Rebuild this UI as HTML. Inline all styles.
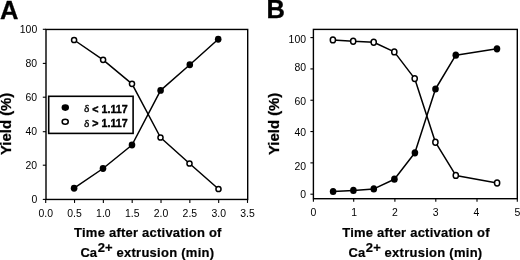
<!DOCTYPE html>
<html><head><meta charset="utf-8"><title>Figure</title>
<style>
html,body{margin:0;padding:0;background:#fff;}
svg{display:block;}
text{font-family:"Liberation Sans",Arial,Helvetica,sans-serif;fill:#000;}
.b{font-weight:bold;}
.t{font-size:10.45px;}
.sym{font-family:"Liberation Serif","DejaVu Serif",serif;font-weight:normal;}
</style></head><body>
<svg width="520" height="260" viewBox="0 0 520 260">
<rect width="520" height="260" fill="#fff"/>

<rect x="46.0" y="29.45" width="201.7" height="170.0" fill="none" stroke="#000" stroke-width="1.4"/>
<line x1="42.8" y1="199.4" x2="46.0" y2="199.4" stroke="#000" stroke-width="1.1"/>
<text class="t" x="37.2" y="203.1" text-anchor="end">0</text>
<line x1="42.8" y1="165.2" x2="46.0" y2="165.2" stroke="#000" stroke-width="1.1"/>
<text class="t" x="37.2" y="168.89999999999998" text-anchor="end">20</text>
<line x1="42.8" y1="131.7" x2="46.0" y2="131.7" stroke="#000" stroke-width="1.1"/>
<text class="t" x="37.2" y="135.39999999999998" text-anchor="end">40</text>
<line x1="42.8" y1="97.2" x2="46.0" y2="97.2" stroke="#000" stroke-width="1.1"/>
<text class="t" x="37.2" y="100.9" text-anchor="end">60</text>
<line x1="42.8" y1="63.4" x2="46.0" y2="63.4" stroke="#000" stroke-width="1.1"/>
<text class="t" x="37.2" y="67.1" text-anchor="end">80</text>
<line x1="42.8" y1="29.3" x2="46.0" y2="29.3" stroke="#000" stroke-width="1.1"/>
<text class="t" x="37.2" y="33.0" text-anchor="end">100</text>
<line x1="45.7" y1="199.45" x2="45.7" y2="202.95" stroke="#000" stroke-width="1.1"/>
<text class="t" x="45.7" y="216.9" text-anchor="middle">0.0</text>
<line x1="74.53" y1="199.45" x2="74.53" y2="202.95" stroke="#000" stroke-width="1.1"/>
<text class="t" x="74.53" y="216.9" text-anchor="middle">0.5</text>
<line x1="103.36" y1="199.45" x2="103.36" y2="202.95" stroke="#000" stroke-width="1.1"/>
<text class="t" x="103.36" y="216.9" text-anchor="middle">1.0</text>
<line x1="132.19" y1="199.45" x2="132.19" y2="202.95" stroke="#000" stroke-width="1.1"/>
<text class="t" x="132.19" y="216.9" text-anchor="middle">1.5</text>
<line x1="161.01999999999998" y1="199.45" x2="161.01999999999998" y2="202.95" stroke="#000" stroke-width="1.1"/>
<text class="t" x="161.01999999999998" y="216.9" text-anchor="middle">2.0</text>
<line x1="189.84999999999997" y1="199.45" x2="189.84999999999997" y2="202.95" stroke="#000" stroke-width="1.1"/>
<text class="t" x="189.84999999999997" y="216.9" text-anchor="middle">2.5</text>
<line x1="218.68" y1="199.45" x2="218.68" y2="202.95" stroke="#000" stroke-width="1.1"/>
<text class="t" x="218.68" y="216.9" text-anchor="middle">3.0</text>
<line x1="247.51" y1="199.45" x2="247.51" y2="202.95" stroke="#000" stroke-width="1.1"/>
<text class="t" x="247.51" y="216.9" text-anchor="middle">3.5</text>
<polyline points="74.1,40.0 103.1,59.8 132,83.8 160.5,137.5 189.5,163.5 218.5,189" fill="none" stroke="#000" stroke-width="1.5" stroke-linejoin="round"/>
<polyline points="74.1,188.2 103,168.5 132,145 160.6,90.4 189.8,64.8 218.2,39.3" fill="none" stroke="#000" stroke-width="1.5" stroke-linejoin="round"/>
<rect x="48.7" y="96.3" width="84.4" height="37.1" fill="#fff" stroke="#000" stroke-width="1.6"/>
<ellipse cx="74.1" cy="40.0" rx="2.55" ry="2.6" fill="#fff" stroke="#000" stroke-width="1.5"/>
<ellipse cx="103.1" cy="59.8" rx="2.55" ry="2.6" fill="#fff" stroke="#000" stroke-width="1.5"/>
<ellipse cx="132" cy="83.8" rx="2.55" ry="2.6" fill="#fff" stroke="#000" stroke-width="1.5"/>
<ellipse cx="160.5" cy="137.5" rx="2.55" ry="2.6" fill="#fff" stroke="#000" stroke-width="1.5"/>
<ellipse cx="189.5" cy="163.5" rx="2.55" ry="2.6" fill="#fff" stroke="#000" stroke-width="1.5"/>
<ellipse cx="218.5" cy="189" rx="2.55" ry="2.6" fill="#fff" stroke="#000" stroke-width="1.5"/>
<ellipse cx="74.1" cy="188.2" rx="3.3" ry="3.45" fill="#000"/>
<ellipse cx="103" cy="168.5" rx="3.3" ry="3.45" fill="#000"/>
<ellipse cx="132" cy="145" rx="3.3" ry="3.45" fill="#000"/>
<ellipse cx="160.6" cy="90.4" rx="3.3" ry="3.45" fill="#000"/>
<ellipse cx="189.8" cy="64.8" rx="3.3" ry="3.45" fill="#000"/>
<ellipse cx="218.2" cy="39.3" rx="3.3" ry="3.45" fill="#000"/>
<ellipse cx="65.3" cy="107.6" rx="3.7" ry="3.3" fill="#000"/>
<ellipse cx="65.2" cy="121.7" rx="3.05" ry="2.5" fill="#fff" stroke="#000" stroke-width="1.5"/>
<text class="sym" font-size="11.3" x="84.0" y="112.3" stroke="#000" stroke-width="0.35">δ</text>
<text class="b" font-size="11.4" x="92.3" y="112.5" textLength="35.3" lengthAdjust="spacingAndGlyphs" stroke="#000" stroke-width="0.45">&lt; 1.117</text>
<text class="sym" font-size="11.3" x="84.0" y="126.8" stroke="#000" stroke-width="0.35">δ</text>
<text class="b" font-size="11.4" x="92.3" y="127.0" textLength="35.3" lengthAdjust="spacingAndGlyphs" stroke="#000" stroke-width="0.45">&gt; 1.117</text>
<text class="b" font-size="25.5" x="-0.1" y="18.8" stroke="#000" stroke-width="0.3">A</text>
<text class="b" font-size="13.8" transform="translate(11.4,155.0) rotate(-90)" textLength="62.3" lengthAdjust="spacingAndGlyphs" stroke="#000" stroke-width="0.25">Yield (%)</text>
<text class="b" font-size="13" transform="translate(74.1,236.7) scale(1,1.03)" textLength="147.3" lengthAdjust="spacing" stroke="#000" stroke-width="0.2">Time after activation of</text>
<text class="b" font-size="13" transform="translate(80.4,256.5) scale(1,1.03)" stroke="#000" stroke-width="0.2">Ca</text>
<text class="b" font-size="13" transform="translate(97.7,251.9) scale(1,1.04)" textLength="15" lengthAdjust="spacing" stroke="#000" stroke-width="0.2">2+</text>
<text class="b" font-size="13" transform="translate(116.5,256.5) scale(1,1.03)" textLength="97.6" lengthAdjust="spacing" stroke="#000" stroke-width="0.2">extrusion (min)</text>
<rect x="313.4" y="29.4" width="203.89999999999998" height="169.29999999999998" fill="none" stroke="#000" stroke-width="1.4"/>
<line x1="310.4" y1="194.20" x2="313.4" y2="194.20" stroke="#000" stroke-width="1.1"/>
<text class="t" x="306.0" y="198.30" text-anchor="end">0</text>
<line x1="310.4" y1="162.88" x2="313.4" y2="162.88" stroke="#000" stroke-width="1.1"/>
<text class="t" x="306.0" y="170.30" text-anchor="end">20</text>
<line x1="310.4" y1="131.56" x2="313.4" y2="131.56" stroke="#000" stroke-width="1.1"/>
<text class="t" x="306.0" y="135.90" text-anchor="end">40</text>
<line x1="310.4" y1="100.24" x2="313.4" y2="100.24" stroke="#000" stroke-width="1.1"/>
<text class="t" x="306.0" y="104.60" text-anchor="end">60</text>
<line x1="310.4" y1="68.92" x2="313.4" y2="68.92" stroke="#000" stroke-width="1.1"/>
<text class="t" x="306.0" y="71.45" text-anchor="end">80</text>
<line x1="310.4" y1="37.60" x2="313.4" y2="37.60" stroke="#000" stroke-width="1.1"/>
<text class="t" x="306.0" y="43.15" text-anchor="end">100</text>
<line x1="313.4" y1="198.7" x2="313.4" y2="201.7" stroke="#000" stroke-width="1.1"/>
<text class="t" x="313.40" y="216.30" text-anchor="middle">0</text>
<line x1="353.7" y1="198.7" x2="353.7" y2="201.7" stroke="#000" stroke-width="1.1"/>
<text class="t" x="354.18" y="216.30" text-anchor="middle">1</text>
<line x1="394.9" y1="198.7" x2="394.9" y2="201.7" stroke="#000" stroke-width="1.1"/>
<text class="t" x="394.96" y="216.30" text-anchor="middle">2</text>
<line x1="435.8" y1="198.7" x2="435.8" y2="201.7" stroke="#000" stroke-width="1.1"/>
<text class="t" x="435.74" y="216.30" text-anchor="middle">3</text>
<line x1="477.0" y1="198.7" x2="477.0" y2="201.7" stroke="#000" stroke-width="1.1"/>
<text class="t" x="476.52" y="216.30" text-anchor="middle">4</text>
<line x1="517.3" y1="198.7" x2="517.3" y2="201.7" stroke="#000" stroke-width="1.1"/>
<text class="t" x="517.30" y="216.30" text-anchor="middle">5</text>
<polyline points="332.9,39.9 353.2,41.3 373.7,42.2 394.3,51.9 414.7,78.6 435.4,142.2 455.8,175.4 497.1,183.0" fill="none" stroke="#000" stroke-width="1.5" stroke-linejoin="round"/>
<polyline points="333.1,191.5 353.4,190.4 373.8,188.9 394.4,179.2 414.9,152.8 435.5,89.0 455.8,55.2 497.0,48.8" fill="none" stroke="#000" stroke-width="1.5" stroke-linejoin="round"/>
<ellipse cx="332.9" cy="39.9" rx="2.6" ry="2.95" fill="#fff" stroke="#000" stroke-width="1.5"/>
<ellipse cx="353.2" cy="41.3" rx="2.6" ry="2.95" fill="#fff" stroke="#000" stroke-width="1.5"/>
<ellipse cx="373.7" cy="42.2" rx="2.6" ry="2.95" fill="#fff" stroke="#000" stroke-width="1.5"/>
<ellipse cx="394.3" cy="51.9" rx="2.6" ry="2.95" fill="#fff" stroke="#000" stroke-width="1.5"/>
<ellipse cx="414.7" cy="78.6" rx="2.6" ry="2.95" fill="#fff" stroke="#000" stroke-width="1.5"/>
<ellipse cx="435.4" cy="142.2" rx="2.6" ry="2.95" fill="#fff" stroke="#000" stroke-width="1.5"/>
<ellipse cx="455.8" cy="175.4" rx="2.6" ry="2.95" fill="#fff" stroke="#000" stroke-width="1.5"/>
<ellipse cx="497.1" cy="183.0" rx="2.6" ry="2.95" fill="#fff" stroke="#000" stroke-width="1.5"/>
<ellipse cx="333.1" cy="191.5" rx="3.3" ry="3.6" fill="#000"/>
<ellipse cx="353.4" cy="190.4" rx="3.3" ry="3.6" fill="#000"/>
<ellipse cx="373.8" cy="188.9" rx="3.3" ry="3.6" fill="#000"/>
<ellipse cx="394.4" cy="179.2" rx="3.3" ry="3.6" fill="#000"/>
<ellipse cx="414.9" cy="152.8" rx="3.3" ry="3.6" fill="#000"/>
<ellipse cx="435.5" cy="89.0" rx="3.3" ry="3.6" fill="#000"/>
<ellipse cx="455.8" cy="55.2" rx="3.3" ry="3.6" fill="#000"/>
<ellipse cx="497.0" cy="48.8" rx="3.3" ry="3.6" fill="#000"/>
<text class="b" font-size="25.5" x="266.4" y="18.3" stroke="#000" stroke-width="0.3">B</text>
<text class="b" font-size="13.8" transform="translate(279.0,155.0) rotate(-90)" textLength="62.3" lengthAdjust="spacingAndGlyphs" stroke="#000" stroke-width="0.25">Yield (%)</text>
<text class="b" font-size="13" transform="translate(342.20000000000005,237.1) scale(1,1.03)" textLength="147.3" lengthAdjust="spacing" stroke="#000" stroke-width="0.2">Time after activation of</text>
<text class="b" font-size="13" transform="translate(348.5,256.9) scale(1,1.03)" stroke="#000" stroke-width="0.2">Ca</text>
<text class="b" font-size="13" transform="translate(365.8,252.3) scale(1,1.04)" textLength="15" lengthAdjust="spacing" stroke="#000" stroke-width="0.2">2+</text>
<text class="b" font-size="13" transform="translate(384.6,256.9) scale(1,1.03)" textLength="97.6" lengthAdjust="spacing" stroke="#000" stroke-width="0.2">extrusion (min)</text>
</svg></body></html>
